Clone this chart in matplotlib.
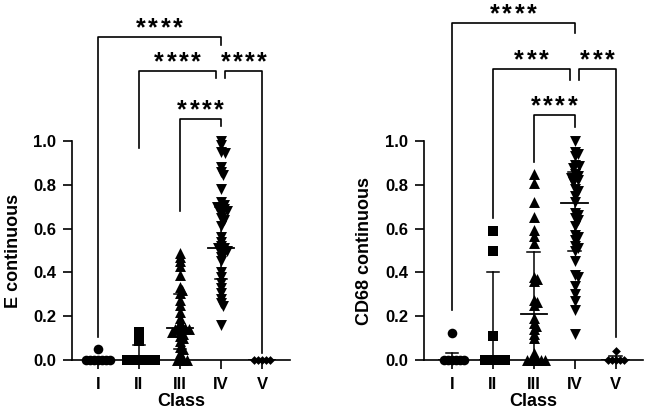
import matplotlib.pyplot as plt
from matplotlib.transforms import offset_copy
import numpy as np

plt.rcParams['font.family'] = ['Liberation Sans', 'DejaVu Sans']
plt.rcParams['font.weight'] = 'bold'

classes = ['I', 'II', 'III', 'IV', 'V']

# E continuous, per class
e_I = [0.05, 0, 0, 0, 0, 0, 0, 0]
e_II = [0.13, 0.11, 0.085, 0, 0, 0, 0, 0, 0, 0, 0]
e_III = [0.49, 0.47, 0.45, 0.43, 0.39, 0.335, 0.32, 0.305, 0.275, 0.25, 0.22, 0.19,
         0.17, 0.155, 0.15, 0.145, 0.14, 0.14, 0.13, 0.13, 0.12, 0.11, 0.10, 0.085,
         0.06, 0.05, 0.03, 0.01, 0, 0, 0]
e_IV = [1.0, 0.98, 0.95, 0.945, 0.88, 0.86, 0.845, 0.78, 0.72, 0.71, 0.70, 0.70,
        0.69, 0.685, 0.68, 0.67, 0.65, 0.64, 0.61, 0.56, 0.54, 0.52, 0.51, 0.51,
        0.50, 0.50, 0.49, 0.47, 0.45, 0.40, 0.38, 0.35, 0.33, 0.305, 0.28, 0.26,
        0.245, 0.16]
e_V = [0, 0, 0, 0, 0]
e_center = [0, 0, 0.145, 0.51, 0]
e_lo = [0, 0, 0.05, 0.37, 0]
e_hi = [0, 0.07, 0.30, 0.70, 0]

# CD68 continuous, per class
c_I = [0.125, 0, 0, 0, 0, 0, 0]
c_II = [0.59, 0.50, 0.11, 0, 0, 0, 0, 0, 0]
c_III = [0.85, 0.81, 0.72, 0.655, 0.595, 0.565, 0.535, 0.38, 0.37, 0.36, 0.275,
         0.265, 0.25, 0.19, 0.17, 0.155, 0.14, 0.12, 0.10, 0.03, 0.01, 0, 0, 0, 0, 0]
c_IV = [1.0, 0.95, 0.94, 0.93, 0.89, 0.885, 0.875, 0.85, 0.84, 0.83, 0.83, 0.82,
        0.815, 0.78, 0.77, 0.75, 0.72, 0.67, 0.66, 0.65, 0.64, 0.61, 0.57, 0.56,
        0.55, 0.52, 0.51, 0.50, 0.45, 0.39, 0.38, 0.34, 0.30, 0.27, 0.23, 0.12]
c_V = [0.04, 0, 0, 0, 0, 0]
c_center = [0, 0, 0.21, 0.715, 0]
c_lo = [0, 0, 0, 0.50, 0]
c_hi = [0.03, 0.40, 0.495, 0.86, 0.02]

# significance brackets: (left class, right class, height, left leg end, right leg end, label)
e_brackets = [(0, 3, 1.475, 0.107, 1.438, '****'),
              (1, 3, 1.32, 0.97, 1.288, '****'),
              (3, 4, 1.32, 1.288, 0.03, '****'),
              (2, 3, 1.10, 0.68, 1.07, '****')]
c_brackets = [(0, 3, 1.54, 0.23, 1.493, '****'),
              (1, 3, 1.329, 0.648, 1.279, '***'),
              (3, 4, 1.329, 1.279, 0.107, '***'),
              (2, 3, 1.119, 0.905, 1.065, '****')]

markers = ['o', 's', '^', 'v', 'D']
msizes = [48, 50, 62, 62, 20]

YPX = 219.0
XPX = 41.0


def swarm(vals, xc, d=3.5):
    vals = np.asarray(vals, dtype=float)
    out = np.zeros(len(vals))
    placed = []
    for i in np.argsort(-vals):
        y = vals[i] * YPX
        for k in range(200):
            off = ((k + 1) // 2) * (1 if k % 2 else -1) * 1.0
            if all((off - px) ** 2 + (y - py) ** 2 >= d * d for px, py in placed):
                break
        placed.append((off, y))
        out[i] = xc + off / XPX
    return out


def draw_panel(fig, ax, groups, center, lo, hi, brackets, ylabel, xlim):
    for i, vals in enumerate(groups):
        xs = swarm(vals, i)
        ax.scatter(xs, vals, marker=markers[i], s=msizes[i], color='black',
                   linewidths=0, zorder=3, clip_on=False)
        # median line and error bar
        ax.plot([i - 0.32, i + 0.32], [center[i], center[i]], color='black', lw=1.3, zorder=4)
        if hi[i] > center[i] or lo[i] < center[i]:
            ax.plot([i, i], [lo[i], hi[i]], color='black', lw=1.1, zorder=4)
            for v in (lo[i], hi[i]):
                if v != center[i]:
                    ax.plot([i - 0.15, i + 0.15], [v, v], color='black', lw=1.1, zorder=4)
    for a, b, h, la, lb, lab in brackets:
        xa, xb = a, b
        if b == 3 and a == 1:
            xb = b - 0.11
        if a == 3:
            xa = a + 0.11
        ax.plot([xa, xa, xb, xb], [la, h, h, lb], color='black', lw=1.2,
                clip_on=False, zorder=2)
        n = len(lab)
        for k in range(n):
            dx = (k - (n - 1) / 2) * 12.3 * 0.72
            tr = offset_copy(ax.transData, fig=fig, x=dx, y=0, units='points')
            ax.text((xa + xb) / 2, h + 0.006, '*', ha='center', va='baseline',
                    fontsize=18, fontweight='bold', transform=tr, clip_on=False)
    ax.set_xlim(*xlim)
    ax.set_ylim(0, 360 / YPX)
    ax.set_xticks(range(5))
    ax.set_xticklabels(classes)
    ax.set_yticks(np.arange(0, 1.01, 0.2))
    ax.set_yticklabels(['%.1f' % t for t in np.arange(0, 1.01, 0.2)])
    ax.spines['left'].set_bounds(0, 1)
    ax.spines['top'].set_visible(False)
    ax.spines['right'].set_visible(False)
    for s in ('left', 'bottom'):
        ax.spines[s].set_linewidth(1.2)
    ax.tick_params(axis='both', length=6.5, width=1.2, labelsize=12)
    ax.tick_params(axis='y', pad=5)
    ax.tick_params(axis='x', pad=5.5)
    for lbl in ax.get_xticklabels() + ax.get_yticklabels():
        lbl.set_fontweight('bold')
    ax.set_xlabel('Class', fontsize=13, fontweight='bold', labelpad=1)
    ax.set_ylabel(ylabel, fontsize=13, fontweight='bold')
    ax.patch.set_visible(False)


fig = plt.figure(figsize=(6.47, 4.17), dpi=100)
ax1 = fig.add_axes([72 / 647, 57 / 417, 218 / 647, 360 / 417])
ax2 = fig.add_axes([424 / 647, 57 / 417, 219 / 647, 360 / 417])

draw_panel(fig, ax1, [e_I, e_II, e_III, e_IV, e_V], e_center, e_lo, e_hi, e_brackets,
           'E continuous', (-0.626, 4.68))
draw_panel(fig, ax2, [c_I, c_II, c_III, c_IV, c_V], c_center, c_lo, c_hi, c_brackets,
           'CD68 continuous', (-0.676, 4.67))
ax1.yaxis.set_label_coords(-0.228, 0.5 / 1.644)
ax2.yaxis.set_label_coords(-0.235, 0.5 / 1.644)

fig.savefig('out.png', dpi=100)
